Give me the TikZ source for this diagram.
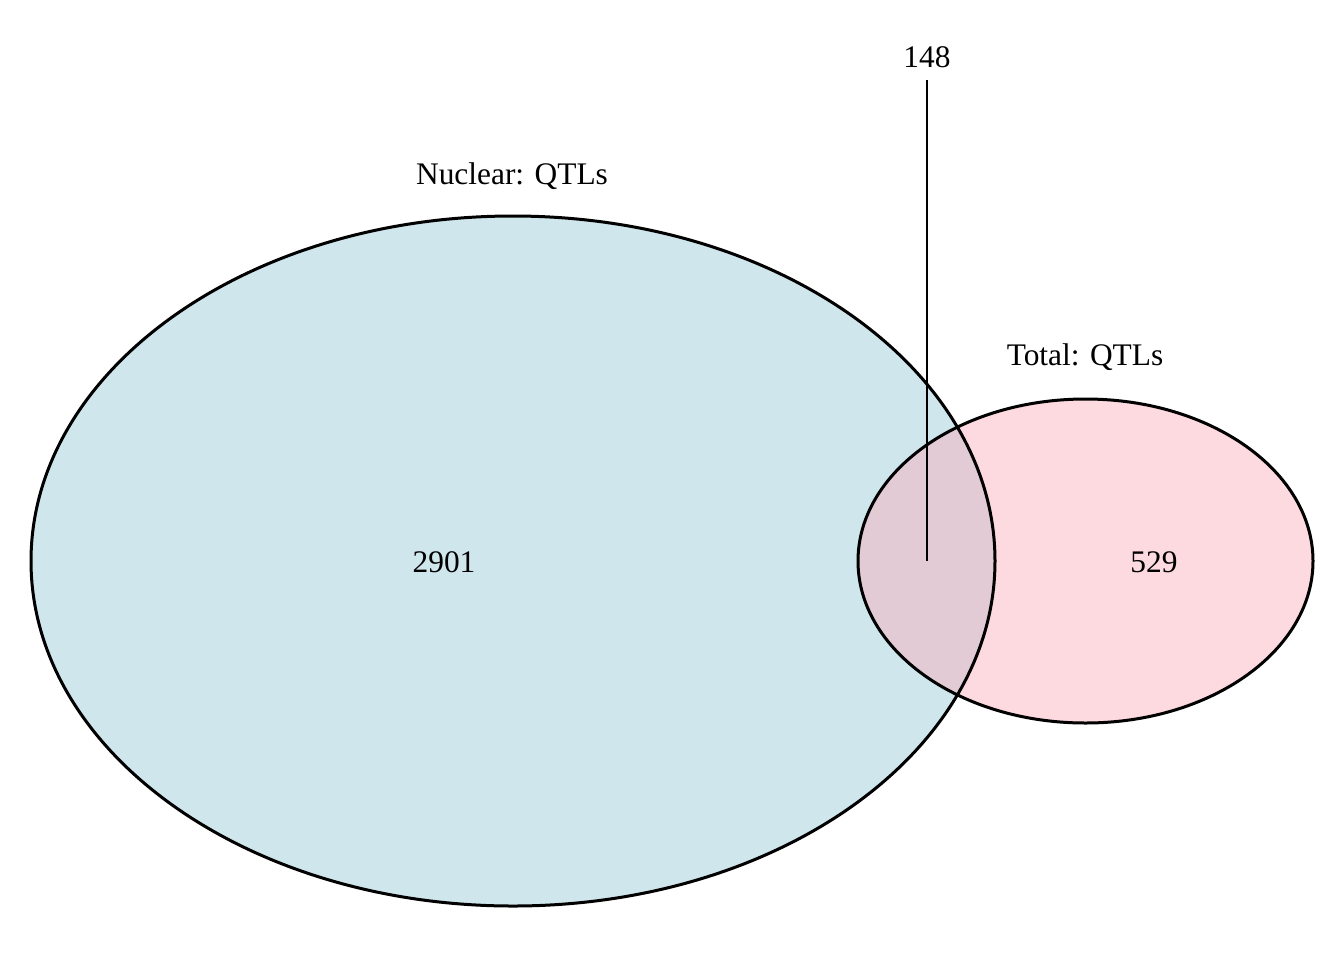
\documentclass[tikz,border=0pt]{standalone}
\usepackage{fontspec}
\setmainfont{Liberation Serif}
\definecolor{nucfill}{HTML}{CFE6ED}
\definecolor{totfill}{HTML}{FDD9E0}
\definecolor{ovfill}{HTML}{E3CBD6}
\tikzset{
  setline/.style={line width=1.5pt, draw=black},
  lbl/.style={font=\fontsize{15.7}{18}\selectfont, inner sep=0pt, anchor=center},
}
\begin{document}
\begin{tikzpicture}[x=0.5pt,y=-0.5pt]
\useasboundingbox (0,0) rectangle (1344,960);
% fills
\fill[nucfill] (513,561) ellipse [x radius=482, y radius=345];
\fill[totfill] (1085.5,561) ellipse [x radius=227.5, y radius=162];
\begin{scope}
\clip (513,561) ellipse [x radius=482, y radius=345];
\fill[ovfill] (1085.5,561) ellipse [x radius=227.5, y radius=162];
\end{scope}
% outlines
\draw[setline] (513,561) ellipse [x radius=482, y radius=345];
\draw[setline] (1085.5,561) ellipse [x radius=227.5, y radius=162];
% labels
\node[lbl] (nuclab) at (512,176) {Nuclear: QTLs};
\node[lbl] (totlab) at (1085,357) {Total: QTLs};
\node[lbl] (nuc) at (444,562) {2901};
\node[lbl] (tot) at (1154,562) {529};
\node[lbl] (ov) at (927,57) {148};
\coordinate (ovend) at (927,561);
\draw[line width=0.6pt] (927,80) -- (ovend);
\end{tikzpicture}
\end{document}
